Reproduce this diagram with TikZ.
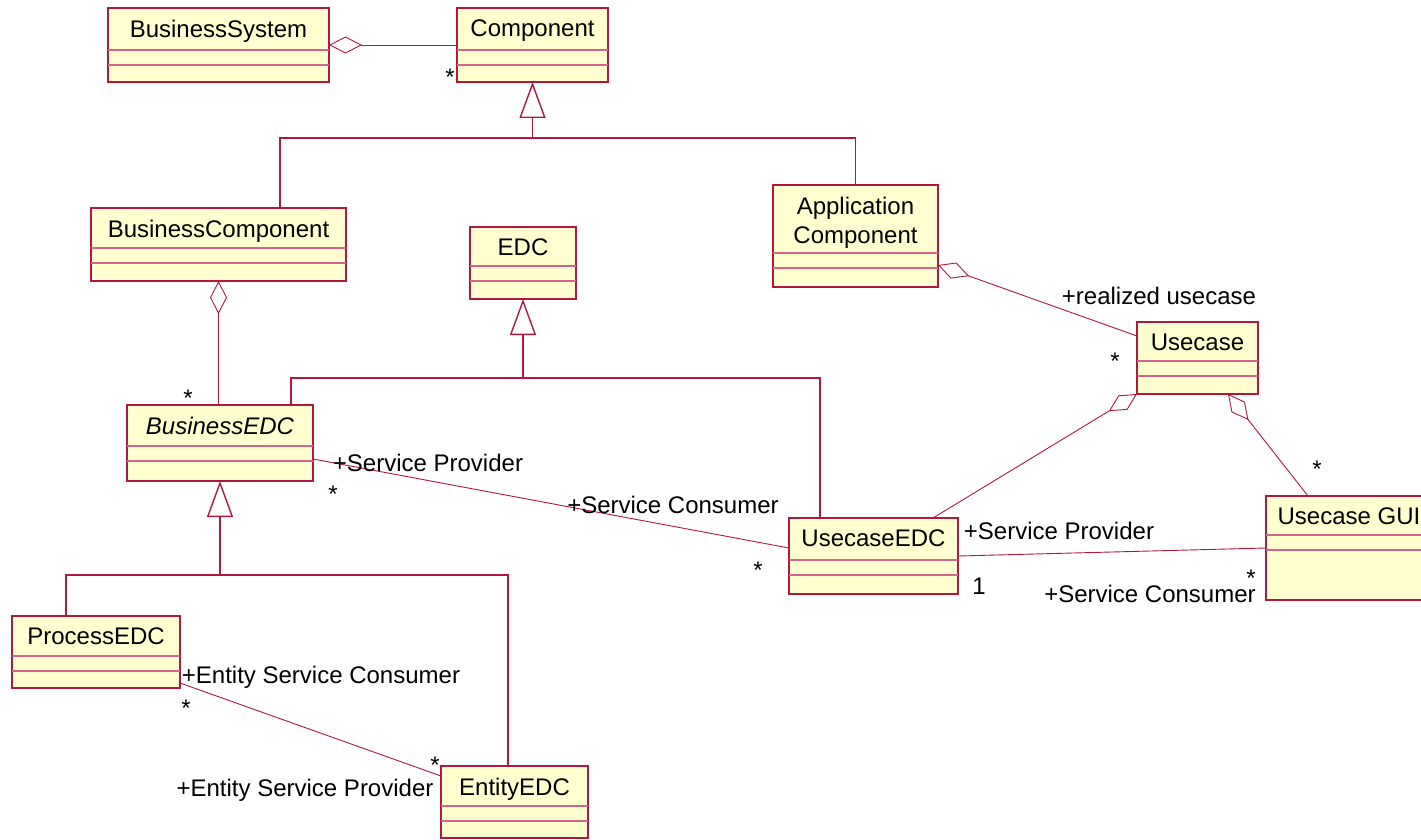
\documentclass[tikz,border=0pt]{standalone}
\usepackage{fontspec}
\setmainfont{Liberation Sans}
\usepackage{tikz}
\usetikzlibrary{arrows.meta}

\definecolor{umlfill}{RGB}{255,255,208}
\definecolor{umlred}{RGB}{176,24,64}
\definecolor{umlpink}{RGB}{212,100,136}

\begin{document}
\begin{tikzpicture}[
    x = 0.5pt, y = -0.5pt, % one unit per pixel, y downwards
    font = \fontsize{12}{14.5}\selectfont,
    class/.style = {draw=umlred, fill=umlfill, line width=0.9pt,
                    inner sep=0pt, outer sep=0pt, anchor=north west},
    classname/.style = {anchor=north, inner sep=0pt, yshift=-5.75pt, align=center},
    compline/.style = {draw=umlpink, line width=0.8pt}, % compartment lines
    assoc/.style = {draw=umlred, line width=0.45pt},
    aggr/.style = {assoc, {Diamond[open, length=16.5pt, width=8.5pt]}-},
    genline/.style = {draw=umlred, line width=0.7pt},
    inherit/.style = {genline, -{Triangle[open, length=18pt, width=13pt]}},
    role/.style = {inner sep=0pt, text height=8.6pt, text depth=2.5pt},
    mult/.style = {role}
]
\useasboundingbox (0,0) rectangle (1421,840);
\fill[white] (0,0) rectangle (1421,840);
\clip (0,0) rectangle (1421,840);

% classes
\node[class, minimum width=110.5pt, minimum height=37pt, label={[classname]north:BusinessSystem}] (bsys) at (108,8) {};
\node[class, minimum width=75.5pt, minimum height=37pt, label={[classname]north:Component}] (comp) at (457,8) {};
\node[class, minimum width=127.5pt, minimum height=36.5pt, label={[classname]north:BusinessComponent}] (bcomp) at (91,208) {};
\node[class, minimum width=53pt, minimum height=36pt, label={[classname]north:EDC}] (edc) at (470,227) {};
\node[class, minimum width=82.5pt, minimum height=51pt, label={[classname]north:Application\\Component}] (appcomp) at (773,185) {};
\node[class, minimum width=60.5pt, minimum height=36pt, label={[classname]north:Usecase}] (usecase) at (1137,322) {};
\node[class, minimum width=93pt, minimum height=38pt, label={[classname]north:\textit{BusinessEDC}}] (bedc) at (127,405) {};
\node[class, minimum width=84.5pt, minimum height=38pt, label={[classname]north:UsecaseEDC}] (uedc) at (789,518) {};
\node[class, minimum width=83pt, minimum height=52pt, label={[classname]north:Usecase GUI}] (ugui) at (1266,496) {};
\node[class, minimum width=84pt, minimum height=36pt, label={[classname]north:ProcessEDC}] (pedc) at (12,616) {};
\node[class, minimum width=73.5pt, minimum height=36pt, label={[classname]north:EntityEDC}] (eedc) at (441,766) {};

% attribute and operation compartments
\foreach \n/\h in {bsys/42, comp/42, bcomp/40, edc/39, appcomp/68, usecase/39,
                   bedc/41, uedc/42, ugui/39, pedc/40, eedc/40} {
    \draw[compline] ([yshift=-\h*0.5pt]\n.north west) -- ([yshift=-\h*0.5pt]\n.north east);
    \draw[compline] ([yshift=-(\h+15)*0.5pt]\n.north west) -- ([yshift=-(\h+15)*0.5pt]\n.north east);
}

% generalisations
\coordinate (g1) at (532.5,138);
\draw[genline] ([xshift=30.75pt]bcomp.north) |- (g1);
\draw[genline] (appcomp.north) |- (g1);
\draw[inherit] (g1) -- (comp.south);

\coordinate (g2) at (523,378);
\draw[genline] ([xshift=35.5pt]bedc.north) |- (g2);
\draw[genline] ([xshift=-26.75pt]uedc.north) |- (g2);
\draw[inherit] (g2) -- (edc.south);

\coordinate (g3) at (220,575);
\draw[genline] ([xshift=-15pt]pedc.north) |- (g3);
\draw[genline] ([xshift=-3.25pt]eedc.north) |- (g3);
\draw[inherit] (g3) -- (bedc.south);

% aggregations
\draw[aggr] (bsys.east) -- (comp.west);
\draw[aggr] (bcomp.south) -- (bcomp.south |- bedc.north);
\draw[aggr] ([yshift=-14.5pt]appcomp.east) -- ([yshift=11pt]usecase.west);
\draw[aggr] (usecase.south west) -- ([xshift=29.75pt]uedc.north);
\draw[aggr] ([xshift=15.25pt]usecase.south) -- ([xshift=-20.5pt]ugui.north);

% associations
\draw[assoc] ([yshift=-8pt]bedc.east) -- ([yshift=4pt]uedc.west);
\draw[assoc] (uedc.east) -- (ugui.west);
\draw[assoc] ([yshift=-15.5pt]pedc.east) -- ([yshift=13pt]eedc.west);

% role names
\node[role] (rreal) at (1159,298.5) {+realized usecase};
\node[role] (rbprov) at (428,465.5) {+Service Provider};
\node[role] (rbcons) at (673,507.5) {+Service Consumer};
\node[role] (ruprov) at (1059,533.5) {+Service Provider};
\node[role] (rucons) at (1150,596.5) {+Service Consumer};
\node[role] (recons) at (321,677.5) {+Entity Service Consumer};
\node[role] (reprov) at (305,790.5) {+Entity Service Provider};

% multiplicities
\node[mult] (m1) at (450,79.5) {*};
\node[mult] (m2) at (1115,363.5) {*};
\node[mult] (m3) at (188,400.5) {*};
\node[mult] (m4) at (333,496.5) {*};
\node[mult] (m5) at (758,572.5) {*};
\node[mult] (m6) at (1251,580.5) {*};
\node[mult] (m7) at (1317,471.5) {*};
\node[mult] (m8) at (186,710.5) {*};
\node[mult] (m9) at (435,767.5) {*};
\node[mult] (m10) at (979,588.5) {1};
\end{tikzpicture}
\end{document}
